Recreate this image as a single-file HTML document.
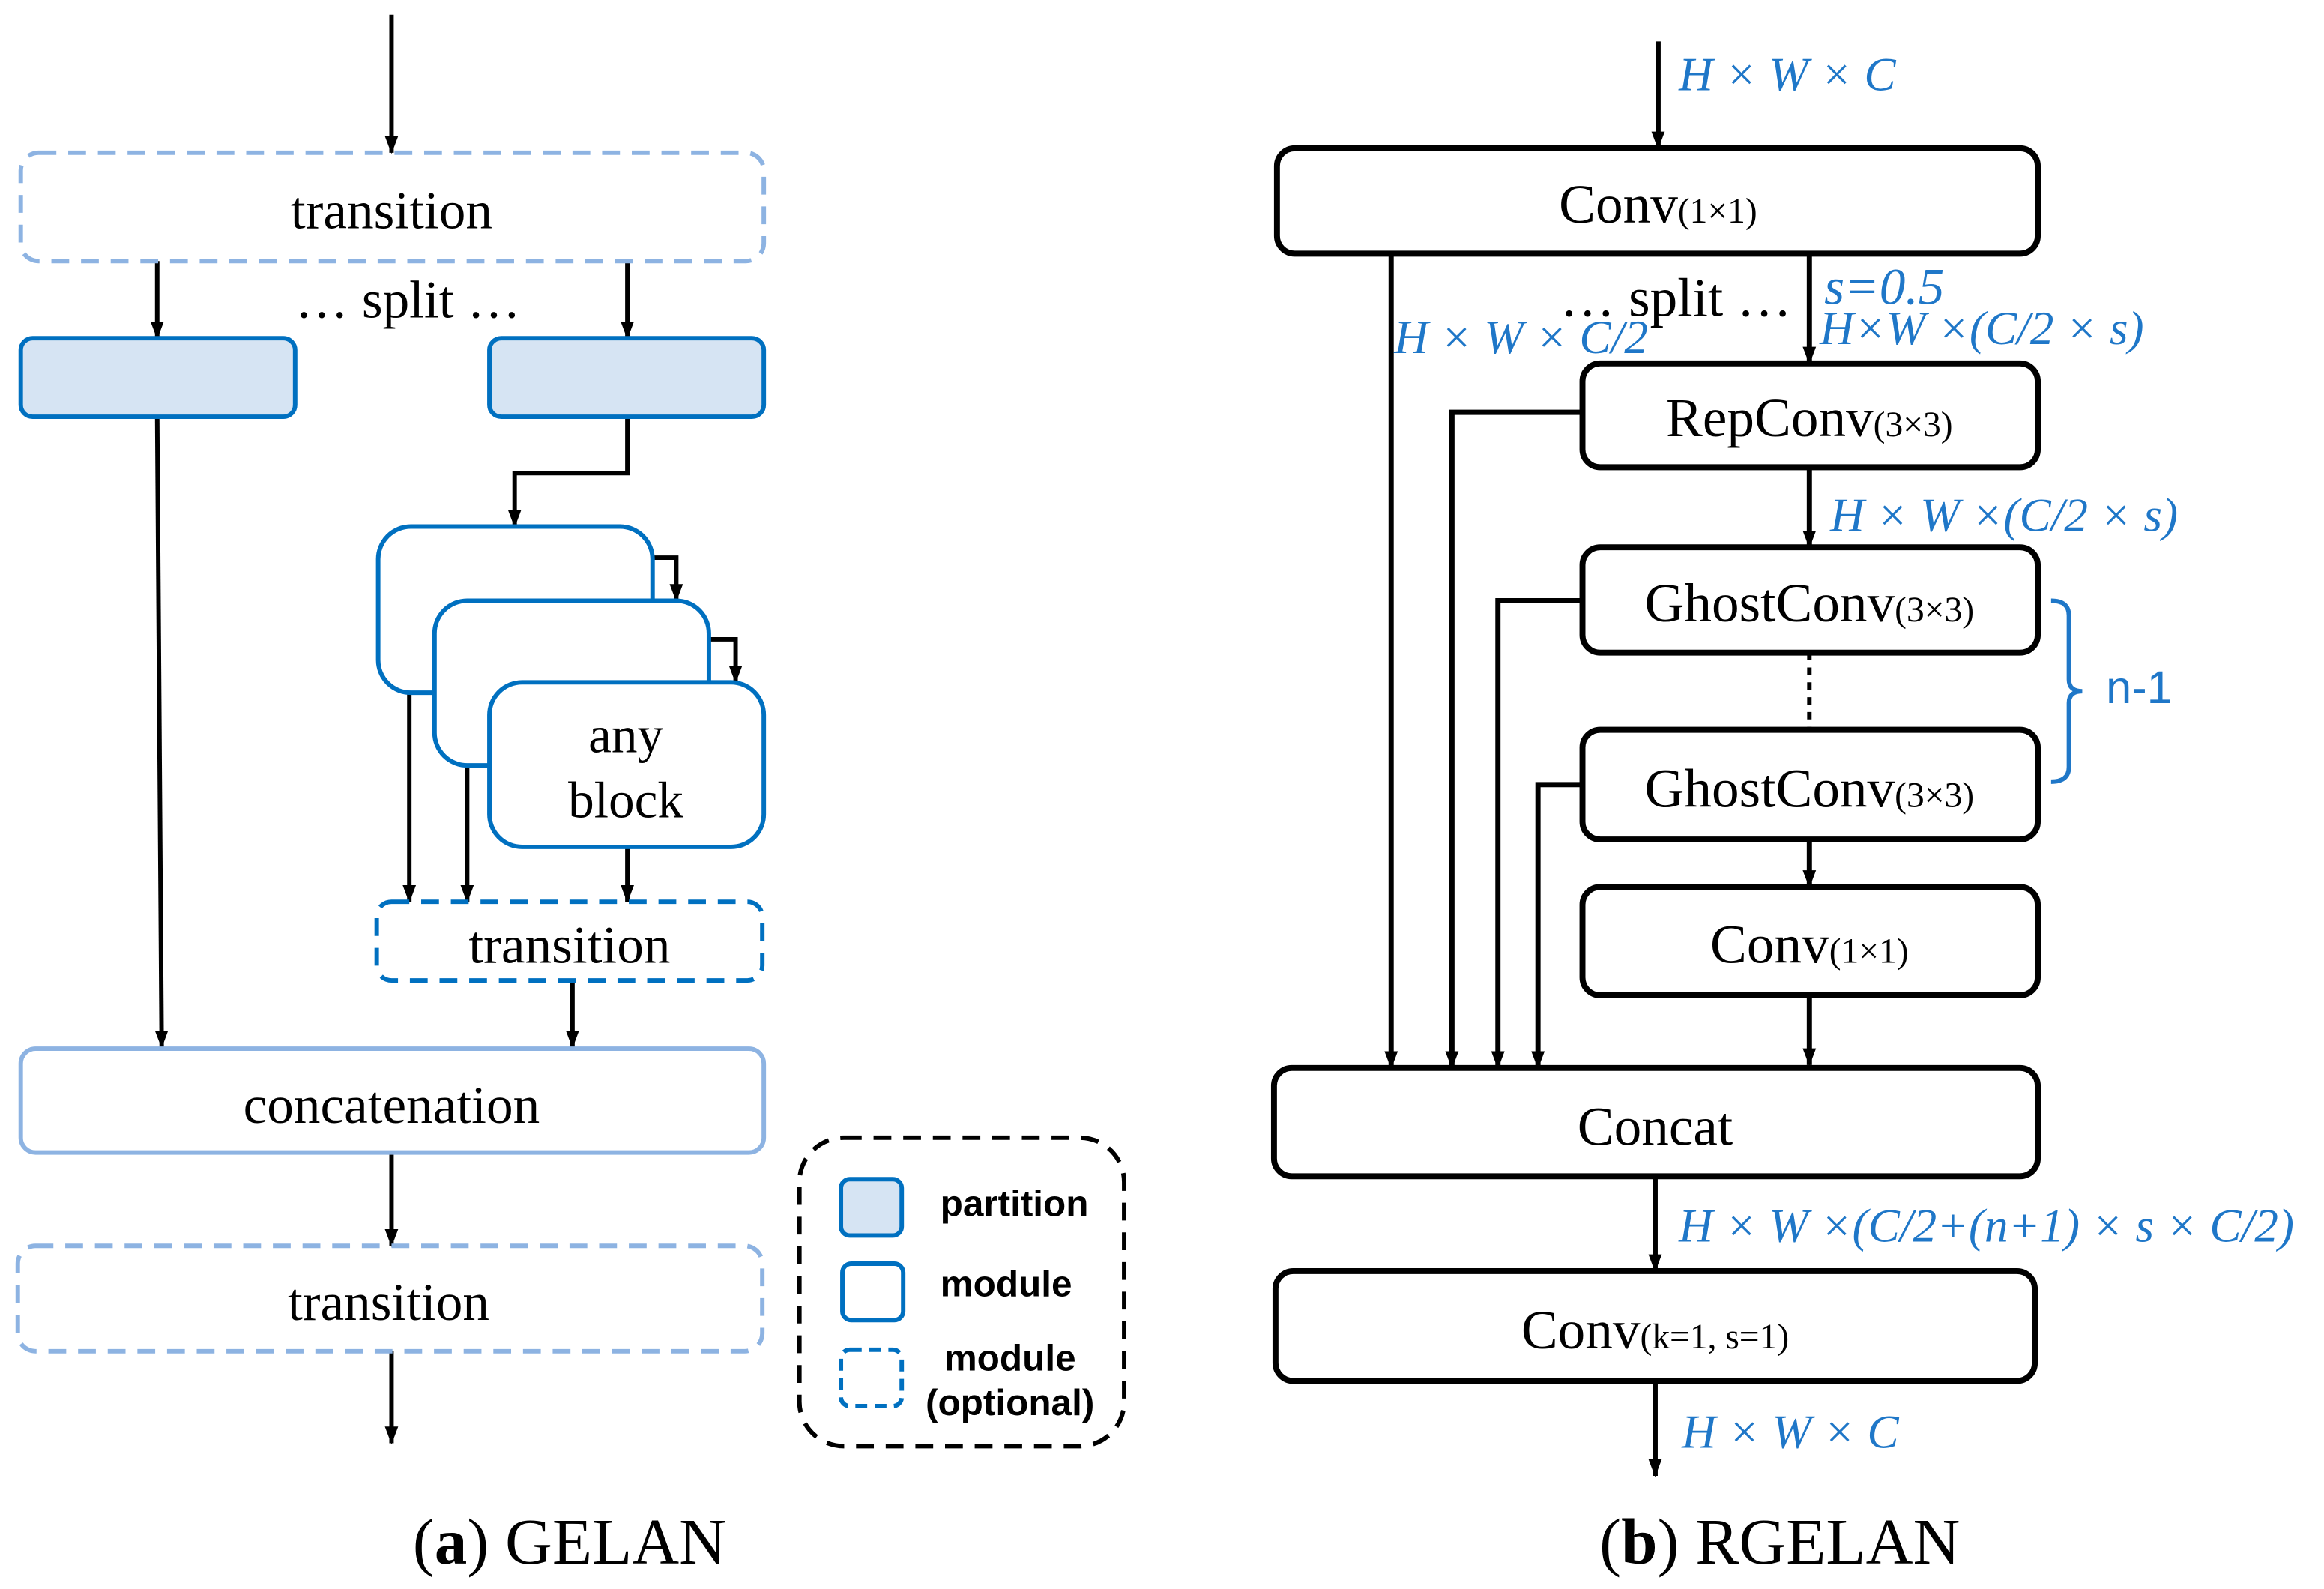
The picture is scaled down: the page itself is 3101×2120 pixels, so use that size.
<!DOCTYPE html>
<html><head><meta charset="utf-8"><style>html,body{margin:0;padding:0;background:#fff}svg{display:block}</style></head><body>
<svg width="3101" height="2120" viewBox="0 0 1567 1071.3" preserveAspectRatio="none" xmlns="http://www.w3.org/2000/svg">
<defs>
<marker id="b" markerWidth="12" markerHeight="16" refX="15" refY="6" orient="auto" markerUnits="userSpaceOnUse" viewBox="0 0 16 12"><path d="M0,0 L16,6 L0,12 z" fill="#000"/></marker></defs>
<g font-family="Liberation Serif, serif" fill="#000">
<!-- (a) -->
<g stroke="#000" stroke-width="3" fill="none" marker-end="url(#b)">
<line x1="264" y1="10" x2="264" y2="103"/>
<line x1="106" y1="176" x2="106" y2="228"/>
<line x1="423" y1="176" x2="423" y2="228"/>
<line x1="106" y1="281" x2="109" y2="706"/>
<polyline points="423,281 423,319 347,319 347,355"/>
<polyline points="440,376 456,376 456,405"/>
<polyline points="478,431 496,431 496,460"/>
<line x1="276" y1="467" x2="276" y2="608"/>
<line x1="315" y1="516" x2="315" y2="608"/>
<line x1="423" y1="571" x2="423" y2="608"/>
<line x1="386" y1="661" x2="386" y2="706"/>
<line x1="264" y1="777" x2="264" y2="840"/>
<line x1="264" y1="911" x2="264" y2="973"/>
</g>
<rect x="14" y="103" width="501" height="73" rx="12" fill="none" stroke="#8DB3E2" stroke-width="3" stroke-dasharray="12,8"/>
<text x="264" y="154" font-size="36" text-anchor="middle">transition</text>
<text x="275" y="214" font-size="36" text-anchor="middle">… split …</text>
<rect x="14" y="228" width="185" height="53" rx="8" fill="#d6e4f3" stroke="#0070c0" stroke-width="3"/>
<rect x="330" y="228" width="185" height="53" rx="8" fill="#d6e4f3" stroke="#0070c0" stroke-width="3"/>
<rect x="255" y="355" width="185" height="112" rx="22" fill="#fff" stroke="#0070c0" stroke-width="3"/>
<rect x="293" y="405" width="185" height="111" rx="22" fill="#fff" stroke="#0070c0" stroke-width="3"/>
<rect x="330" y="460" width="185" height="111" rx="22" fill="#fff" stroke="#0070c0" stroke-width="3"/>
<text x="422" y="507" font-size="35" text-anchor="middle">any</text>
<text x="422" y="551" font-size="35" text-anchor="middle">block</text>
<rect x="254" y="608" width="260" height="53" rx="10" fill="#fff" stroke="#0070c0" stroke-width="3" stroke-dasharray="12,8"/>
<text x="384" y="649" font-size="36" text-anchor="middle">transition</text>
<rect x="14" y="707" width="501" height="70" rx="10" fill="#fff" stroke="#8DB3E2" stroke-width="3"/>
<text x="264" y="757" font-size="36" text-anchor="middle">concatenation</text>
<rect x="12" y="840" width="502" height="71" rx="12" fill="none" stroke="#8DB3E2" stroke-width="3" stroke-dasharray="12,8"/>
<text x="262" y="890" font-size="36" text-anchor="middle">transition</text>
<rect x="539" y="767" width="219" height="208" rx="30" fill="none" stroke="#000" stroke-width="3" stroke-dasharray="12,8"/>
<rect x="567" y="795" width="41" height="38" rx="6" fill="#d6e4f3" stroke="#0070c0" stroke-width="3"/>
<rect x="568" y="852" width="41" height="38" rx="6" fill="#fff" stroke="#0070c0" stroke-width="3"/>
<rect x="567" y="910" width="41" height="38" rx="6" fill="#fff" stroke="#0070c0" stroke-width="3" stroke-dasharray="8,5"/>
<g font-family="Liberation Sans, sans-serif" font-weight="bold" font-size="25">
<text x="634" y="820">partition</text>
<text x="634" y="874">module</text>
<text x="681" y="924" text-anchor="middle">module</text>
<text x="681" y="954" text-anchor="middle">(optional)</text>
</g>
<text x="384" y="1054" font-size="44" text-anchor="middle">(<tspan font-weight="bold">a</tspan>) GELAN</text>
<!-- (b) -->
<g stroke="#000" stroke-width="3.5" fill="none" marker-end="url(#b)">
<line x1="1118" y1="28" x2="1118" y2="100"/>
<line x1="938" y1="171" x2="938" y2="720"/>
<line x1="1220" y1="171" x2="1220" y2="245"/>
<polyline points="1067,278 979,278 979,720"/>
<line x1="1220" y1="315" x2="1220" y2="369"/>
<polyline points="1067,405 1010,405 1010,720"/>
<polyline points="1067,529 1037,529 1037,720"/>
<line x1="1220" y1="566" x2="1220" y2="598"/>
<line x1="1220" y1="671" x2="1220" y2="718"/>
<line x1="1116" y1="793" x2="1116" y2="857"/>
<line x1="1116" y1="931" x2="1116" y2="995"/>
</g>
<line x1="1220" y1="440" x2="1220" y2="492" stroke="#000" stroke-width="3" stroke-dasharray="5,5"/>
<g fill="#fff" stroke="#000" stroke-width="4">
<rect x="861" y="100" width="513" height="71" rx="12"/>
<rect x="1067" y="245" width="307" height="70" rx="12"/>
<rect x="1067" y="369" width="307" height="71" rx="12"/>
<rect x="1067" y="492" width="307" height="74" rx="12"/>
<rect x="1067" y="598" width="307" height="73" rx="12"/>
<rect x="859" y="720" width="515" height="73" rx="12"/>
<rect x="860" y="857" width="512" height="74" rx="12"/>
</g>
<g font-size="37" text-anchor="middle">
<text x="1118" y="150">Conv<tspan font-size="24">(1×1)</tspan></text>
<text x="1220" y="294">RepConv<tspan font-size="24">(3×3)</tspan></text>
<text x="1220" y="419">GhostConv<tspan font-size="24">(3×3)</tspan></text>
<text x="1220" y="544">GhostConv<tspan font-size="24">(3×3)</tspan></text>
<text x="1220" y="649">Conv<tspan font-size="24">(1×1)</tspan></text>
<text x="1116" y="772">Concat</text>
<text x="1116" y="909">Conv<tspan font-size="24">(k=1, s=1)</tspan></text>
<text x="1130" y="213">… split …</text>
</g>
<g fill="#1f77c8" font-style="italic" font-size="32">
<text x="1132" y="61">H × W × C</text>
<text x="1230" y="205" font-size="35">s=0.5</text>
<text x="1227" y="232">H×W ×(C/2 × s)</text>
<text x="940" y="238">H × W × C/2</text>
<text x="1234" y="358">H × W ×(C/2 × s)</text>
<text x="1132" y="837">H × W ×(C/2+(n+1) × s × C/2)</text>
<text x="1134" y="976">H × W × C</text>
</g>
<path d="M1383,405 Q1395,405 1395,415 L1395,458 Q1395,466 1404,466 Q1395,466 1395,474 L1395,517 Q1395,527 1383,527" fill="none" stroke="#1f77c8" stroke-width="3"/>
<text x="1420" y="474" font-family="Liberation Sans, sans-serif" font-size="31" fill="#1f77c8">n-1</text>
<text x="1200" y="1054" font-size="44" text-anchor="middle">(<tspan font-weight="bold">b</tspan>) RGELAN</text>
</g>
</svg>
</body></html>
